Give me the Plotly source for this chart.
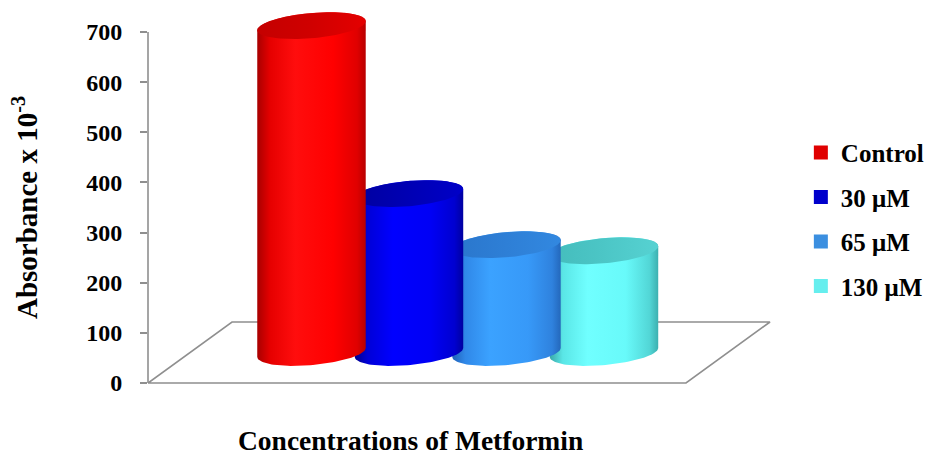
import numpy as np
import plotly.graph_objects as go

# ---- data ----
categories = ["Control", "30 μM", "65 μM", "130 μM"]
absorbance = [652, 317, 215, 203]
y_ticks = [0, 100, 200, 300, 400, 500, 600, 700]

# ---- styling ----
FONT = "Liberation Serif"
body_scales = {
    "Control": [[0, "#a80000"], [0.12, "#e60000"], [0.35, "#ff0d0d"], [0.7, "#ff0000"], [0.92, "#e00000"], [1, "#b80000"]],
    "30 μM": [[0, "#00008c"], [0.12, "#0000d8"], [0.35, "#0000ff"], [0.7, "#0000f5"], [0.92, "#0000d0"], [1, "#0000a0"]],
    "65 μM": [[0, "#1f62b8"], [0.12, "#3088e8"], [0.35, "#3ba2ff"], [0.7, "#3799f8"], [0.92, "#2f82de"], [1, "#2468bc"]],
    "130 μM": [[0, "#3aa8a8"], [0.12, "#5ae6e6"], [0.35, "#70ffff"], [0.7, "#68fafa"], [0.92, "#52d6d6"], [1, "#3cb0b0"]],
}
cap_scales = {
    "Control": [[0, "#c40000"], [0.5, "#d00000"], [1, "#e40000"]],
    "30 μM": [[0, "#0000a0"], [0.5, "#0000b4"], [1, "#0000c8"]],
    "65 μM": [[0, "#2a76cc"], [0.5, "#2e7fd6"], [1, "#3288e0"]],
    "130 μM": [[0, "#44bcbc"], [0.5, "#4cc6c6"], [1, "#56d2d2"]],
}
legend_colors = {"Control": "#e00000", "30 μM": "#0000cc", "65 μM": "#3b8fe0", "130 μM": "#66eeee"}
EDGE = "#8f8f8f"

# ---- oblique projection of the 3D floor ----
DEPTH_X = 0.8615      # horizontal shift of the back edge (category units)
DEPTH_V = 121.7       # vertical shift of the back edge (value units)
X_LEFT, X_RIGHT = -1.246, 4.272
RADIUS_X = 0.523      # cylinder radius along the category axis
RADIUS_Z = 0.22       # cylinder radius along the depth axis (fraction of depth)
MID_Z = 0.5


def project(x, z, v):
    return x + z * DEPTH_X, v + z * DEPTH_V


def ellipse(xc, v, t):
    px, pv = project(xc, MID_Z, v)
    ex = px + RADIUS_X * np.cos(t) + RADIUS_Z * DEPTH_X * np.sin(t)
    ev = pv + RADIUS_Z * DEPTH_V * np.sin(t)
    return ex, ev


t0 = np.arctan2(RADIUS_Z * DEPTH_X, RADIUS_X)

fig = go.Figure()

# floor
fx = [X_LEFT, X_RIGHT, X_RIGHT + DEPTH_X, X_LEFT + DEPTH_X, X_LEFT]
fv = [0, 0, DEPTH_V, DEPTH_V, 0]
fig.add_trace(go.Scatter(x=fx, y=fv, mode="lines", fill="toself", fillcolor="white",
                         line=dict(color=EDGE, width=1.6), hoverinfo="skip", showlegend=False))

# cylinders, back-most first so the front ones overlap
for i in reversed(range(len(categories))):
    name = categories[i]
    val = absorbance[i]
    front = np.linspace(t0 + np.pi, t0 + 2 * np.pi, 60)
    back = np.linspace(t0, t0 + np.pi, 60)
    bx, bv = ellipse(i, 0, front)
    tx, tv = ellipse(i, val, back)
    xs = np.concatenate([bx, tx, bx[:1]])
    vs = np.concatenate([bv, tv, bv[:1]])
    fig.add_trace(go.Scatter(x=xs, y=vs, mode="lines", fill="toself",
                             fillgradient=dict(type="horizontal", colorscale=body_scales[name]),
                             line=dict(width=0), hoverinfo="skip", showlegend=False))
    full = np.linspace(0, 2 * np.pi, 120)
    cx, cv = ellipse(i, val, full)
    fig.add_trace(go.Scatter(x=cx, y=cv, mode="lines", fill="toself",
                             fillgradient=dict(type="horizontal", colorscale=cap_scales[name]),
                             line=dict(width=0), hoverinfo="skip", showlegend=False))

# legend entries
for name in categories:
    fig.add_trace(go.Scatter(x=[None], y=[None], mode="markers", name="<b>" + name + "</b>",
                             legendgroup=name,
                             marker=dict(symbol="square", size=14, color=legend_colors[name])))

fig.add_shape(type="line", xref="paper", yref="y", x0=0, x1=0, y0=0, y1=700,
              line=dict(color=EDGE, width=1.6))

fig.update_layout(
    width=928, height=461,
    margin=dict(l=148, r=148, t=2, b=73, autoexpand=False),
    plot_bgcolor="white", paper_bgcolor="white",
    font=dict(family=FONT, color="black", size=22),
    xaxis=dict(range=[-1.246, 5.236], visible=False, fixedrange=True),
    yaxis=dict(range=[-10, 760], tickvals=y_ticks, ticktext=[f"<b>{v}</b>" for v in y_ticks],
               showgrid=False, zeroline=False,
               showline=False, ticks="outside", ticklen=7, tickwidth=1.6, tickcolor=EDGE,
               ticklabelstandoff=13, tickfont=dict(family=FONT, size=24),
               fixedrange=True),
    legend=dict(x=1.033, xanchor="left", y=0.437, yanchor="middle", tracegroupgap=9,
                font=dict(family=FONT, size=25), bgcolor="rgba(0,0,0,0)"),
    annotations=[
        dict(text="<b>Absorbance x 10<sup>-3</sup></b>", xref="paper", yref="paper",
             x=(25 - 148) / 632, y=(388 - 208) / 386, xanchor="center", yanchor="middle",
             textangle=-90, showarrow=False, font=dict(family=FONT, size=29)),
        dict(text="<b>Concentrations of Metformin</b>", xref="paper", yref="paper",
             x=(410 - 148) / 632, y=(388 - 440) / 386, xanchor="center", yanchor="middle",
             showarrow=False, font=dict(family=FONT, size=27.5)),
    ],
)

fig.write_html("out.html")
